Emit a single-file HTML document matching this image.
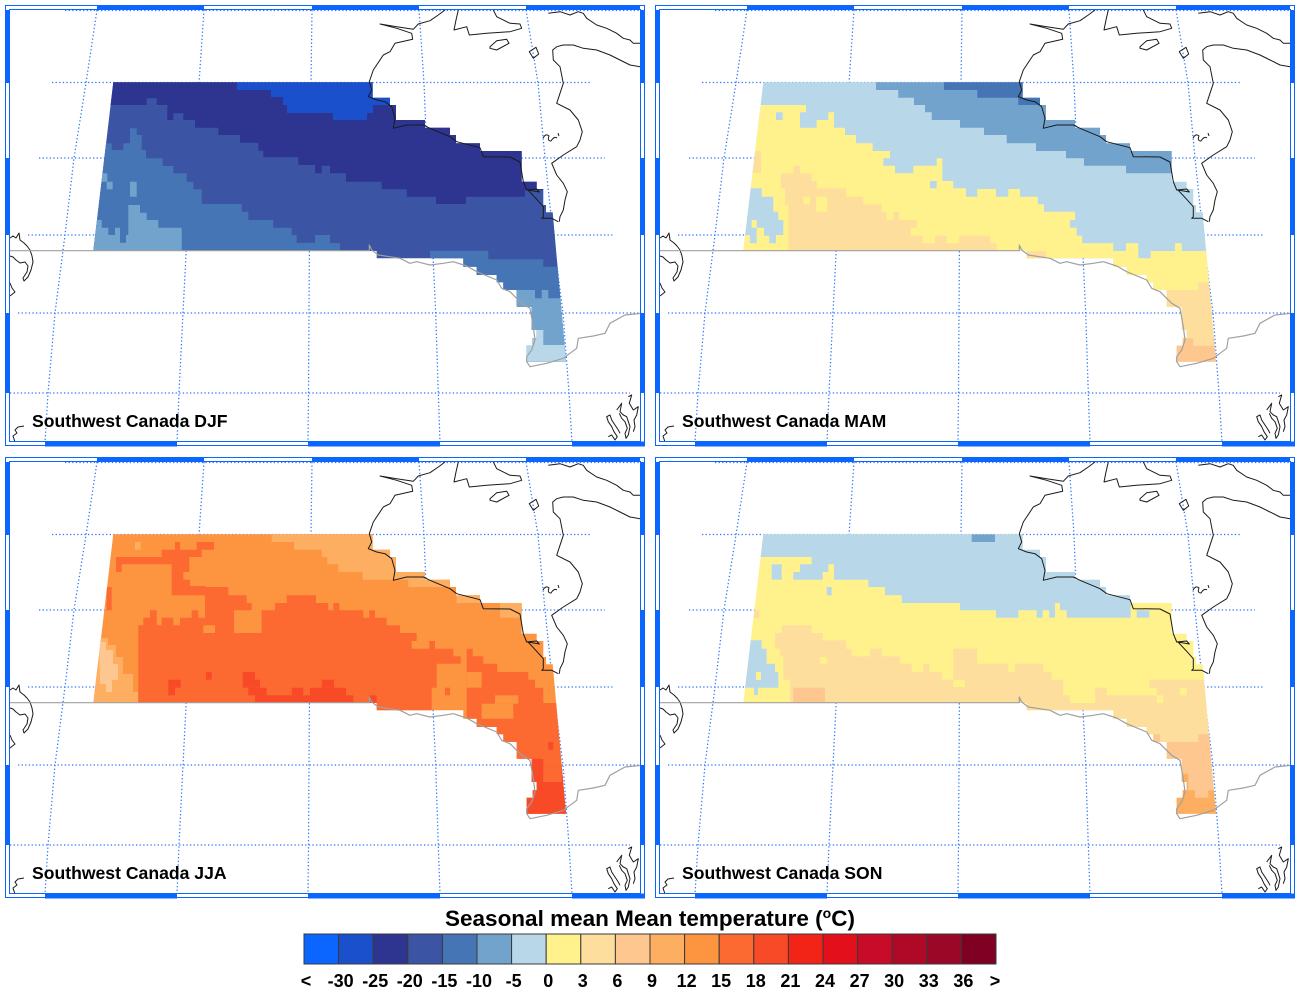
<!DOCTYPE html>
<html><head><meta charset="utf-8"><style>
html,body{margin:0;padding:0;background:#fff;}
svg{display:block;}
text{font-family:"Liberation Sans",Arial,sans-serif;font-weight:bold;fill:#000;}
</style></head><body>
<svg width="1300" height="992" viewBox="0 0 1300 992" xmlns="http://www.w3.org/2000/svg">
<defs>
<clipPath id="cp"><polygon points="113.3,82.3 372.7,82.3 372.7,97.7 390,97.7 390,105 396,105 396,120 425,120 425,127.7 450,127.7 450,135 456,135 456,143.3 480,143.3 480,151 521.7,151 521.7,181.7 536.7,181.7 536.7,189 543.3,189 543.3,205 546,205 546,212.3 552.7,212.3 566,361.7 526.7,361.7 526.7,345.7 532.7,345.7 532.7,338.3 536.7,338.3 536.7,330 531.7,330 531.7,306.7 516.7,306.7 516.7,290 503.3,290 503.3,282.3 496.7,282.3 496.7,275 476.7,275 476.7,266.7 463.3,266.7 463.3,258.3 376.7,258.3 376.7,251 93.3,251"/></clipPath>
<g id="grid" fill="none" stroke="#2a74ff" stroke-width="1.25" stroke-dasharray="1.3 2.3">
<polyline points="97,10 86,83 74,158 65,235 55,313 48,393 45,442"/>
<polyline points="204,10 199,83 193,158 187,235 183,313 179,393 177,442"/>
<polyline points="312,10 311,83 310.5,158 309.5,235 309,313 308.5,393 308,442"/>
<polyline points="419,10 424,83 427,158 432,235 435.7,313 438.3,393 440,442"/>
<polyline points="526,10 538,83 545,158 553,235 563,313 569,393 572,442"/>
<line x1="65" y1="10.5" x2="640" y2="10.5"/>
<line x1="52" y1="82.5" x2="590" y2="82.5"/>
<line x1="39" y1="158" x2="605" y2="158"/>
<line x1="28" y1="235" x2="613" y2="235"/>
<line x1="18" y1="313" x2="640" y2="313"/>
<line x1="10" y1="393" x2="630" y2="393"/>
</g>
<g id="coast" fill="none" stroke-linejoin="round">
<g stroke="#1a1a1a" stroke-width="1">
<polyline points="445,10 438.3,15 430,20.7 418.3,24 413.3,29.3 396.7,26.7 380,24 396.7,28.3 411.7,33.3 412.7,39.3 395,43.3 390,51.7 383.3,55 373.3,70 369.3,81.7 371.7,90 368.3,96.7 376.7,100 385,101.7 391.7,106.7 395,118.3 393.3,128.3 406.7,125 423.3,125 430,128.3 450,136.7 456.7,141.7 480,147.7 483.3,156.7 510,157 520,162 523.3,181.7 526.7,190 536.7,189 539.3,192 528,190 536.7,199.3 543.3,206.7 543.3,216.7 541.7,218.3 551.7,218.3 558.3,221.7"/>
<polyline points="458.3,10 456,20 454,30 466.7,26.7 469.3,35 486.7,33.3 510,31.7 521.7,28.3 520,24 510,23.3 496.7,16.7 493.3,10"/>
<polygon points="490,46.7 496.7,40.7 506.7,39.3 509,43.3 496.7,50 490,48.3"/>
<polygon points="529.3,51.7 536,47.3 538.7,54 533.3,58.3"/>
<polyline points="548.3,13.3 560,11.7 570,15 578.3,11.7 583.3,13.3 586.7,18.3 596.7,25 606.7,28.3 616.7,33.3 623.3,38.3 630,40 633.3,43.3 640,43.3"/>
<polyline points="640,66.7 630,65 620,60 610,55 596.7,50 583.3,48.3 573.3,45 563.3,45 556.7,46.7 552.7,50 553.3,60 560,66.7 563.3,83.3 560,93.3 556.7,103.3 570,110 578.3,120 582.3,131.7 580,140 576.7,146.7 563.3,155 551.7,163.3 556.7,175 563.3,183.3 567.3,191.7 565,200 563.3,210 560,216.7 559.3,221.7"/>
<path d="M543,138 q3,-5 6,-2 q-2,5 2,5 q3,-5 6,-3 M558,133 l1,3"/>
<polyline points="10,238 13,236 16,238 19,233 20,240 24,243 27,246 30,250 32,256 33,262 31,270 28,277 24,281 23,278 27,272 28,266 25,262 20,263 16,260 13,257 10,256"/>
<polyline points="10,283 12,288 15,292 10,296"/>
<polyline points="24,426 18,427 15,430 17,433 13,436 15,442"/>
<polyline points="608.3,436.7 611.7,435 615,440 617.3,436.7 614,431.7 611.7,426.7 608.3,421.7 606.7,416.7 610,415 611.7,420 615,425 618.3,430 620,433.3"/>
<polyline points="616.7,410 621.7,403.3 620,411.7 623.3,415 626.7,416.7 630,426.7 628.3,435 626,438.3 625,433.3 627.3,428.3 625,421.7 621.7,418.3 619.3,413.3"/>
<polyline points="628.3,396.7 631.7,395 629.3,403.3 633.3,410 638.3,406.7 636.7,415 634,420 635,426.7 633.3,431.7"/>
</g>
<g stroke="#a0a0a0" stroke-width="1.2">
<polyline points="10,250.7 369.3,250.7 369.3,245 371.7,250 378.3,255 400,258.3 410,263.3 416.7,261.7 430,265 443.3,263.3 453.3,261.7 466.7,266 476.7,271.7 496.7,280 501.7,288.3 510,291.7 515,296.7 521.7,303.3 530,308.3 533.3,326.7 535,340 531.7,350 526.7,356.7 526.7,361.7 530,366.7 546.7,363.3 563.3,358.3 576.7,348.3 578.3,338.3 593.3,336 605,333.3 610,323.3 625,315 641.7,313.3"/>
</g>
</g>
<g id="frame">
<rect x="5.5" y="5.5" width="639" height="440" fill="none" stroke="#0a66ff" stroke-width="1"/>
<rect x="9.5" y="9.5" width="631" height="432" fill="none" stroke="#0a66ff" stroke-width="1"/>
<g fill="#0a66ff">
<rect x="97" y="5" width="107" height="5"/>
<rect x="312" y="5" width="107" height="5"/>
<rect x="526" y="5" width="114" height="5"/>
<rect x="45" y="441.5" width="132" height="5"/>
<rect x="308" y="441.5" width="132" height="5"/>
<rect x="572" y="441.5" width="73" height="5"/>
<rect x="5" y="10" width="4.5" height="73"/>
<rect x="5" y="158" width="4.5" height="77"/>
<rect x="5" y="313" width="4.5" height="80"/>
<rect x="640.5" y="10" width="4.5" height="73"/>
<rect x="640.5" y="158" width="4.5" height="77"/>
<rect x="640.5" y="313" width="4.5" height="80"/>
</g>
</g>
</defs>

<!-- DJF -->
<g transform="translate(0,0)">
<use href="#grid"/>
<g clip-path="url(#cp)">
<rect x="80" y="70" width="520" height="320" fill="#3b55a4"/>
<polygon fill="#2e3591" points="100,78 237,78 237,90 271,90 271,97 283,97 283,105 287,105 287,113 333,113 333,120 367,120 367,113 373,113 373,105 600,105 600,190 525,190 525,196.7 466,196.7 466,204 436,204 436,196.7 406.7,196.7 406.7,189.3 381.7,189.3 381.7,181.7 346,181.7 346,173.3 330,173.3 330,165.7 321.7,165.7 321.7,173.3 315,173.3 315,165 298.3,165 298.3,157.3 263.3,157.3 263.3,150.7 258.3,150.7 258.3,142.7 240,142.7 240,135 218.3,135 218.3,127.7 195,127.7 195,120 183.3,120 183.3,113.3 173.3,113.3 173.3,120 167.3,120 167.3,105 156.7,105 156.7,98.3 146.7,98.3 146.7,105 100,105"/>
<polygon fill="#1b50cc" points="237,78 400,78 400,105 373,105 373,113 367,113 367,120 333,120 333,113 287,113 287,105 283,105 283,97 271,97 271,90 237,90"/>
<polygon fill="#4575b4" points="90,143.3 111.7,143.3 111.7,150 123.3,150 123.3,143.3 130,143.3 130,128.3 136.7,128.3 136.7,135 141.7,135 141.7,150 146,150 146,158.3 162.7,158.3 162.7,166 173.3,166 173.3,173.3 186.7,173.3 186.7,181.7 193.3,181.7 193.3,189.3 201.7,189.3 201.7,204 241.7,204 241.7,211.7 248.3,211.7 248.3,220 273.3,220 273.3,227.7 291.7,227.7 291.7,235 296.7,235 296.7,242.7 315,242.7 315,235 330,235 330,243 340,243 340,252 90,252"/>
<polygon fill="#4575b4" points="433.3,250.7 488.3,250.7 488.3,259.3 543.3,259.3 543.3,266.7 580,266.7 580,380 430,380 430,250.7"/>
<polygon fill="#72a3cd" points="128.3,205 140,205 140,212.7 146.7,212.7 146.7,220 158.3,220 158.3,227.7 181.7,227.7 181.7,252 90,252 90,220 101.7,220 101.7,227.7 108.3,227.7 108.3,235 115,235 115,227.7 120,227.7 120,242.7 126,242.7 126,235 128.3,235"/>
<rect fill="#72a3cd" x="101.7" y="173.3" width="5.6" height="8.4"/>
<rect fill="#72a3cd" x="106.7" y="181.7" width="6" height="7.6"/>
<rect fill="#72a3cd" x="130" y="181.7" width="6.7" height="15"/>
<polygon fill="#72a3cd" points="516.7,290 535,290 535,298.3 541.7,298.3 541.7,290 548.3,290 548.3,298.3 580,298.3 580,380 500,380 500,290"/>
<polygon fill="#b8d8ea" points="533.3,330 543.3,330 543.3,345 580,345 580,380 520,380 520,345 533.3,345"/>
</g>
<use href="#coast"/>
<use href="#frame"/>
<text x="32" y="427" font-size="17.6">Southwest Canada DJF</text>
</g>

<!-- MAM -->
<g transform="translate(650,0)">
<use href="#grid"/>
<g clip-path="url(#cp)">
<rect x="80" y="70" width="520" height="320" fill="#b8d8ea"/>
<polygon fill="#72a3cd" points="226,78 600,78 600,173.3 476,173.3 476,165.7 434,165.7 434,158.3 416,158.3 416,151 386,151 386,143.3 356.7,143.3 356.7,135 334,135 334,127.7 310,127.7 310,120 281.7,120 281.7,112.3 275,112.3 275,105 264,105 264,97.7 248.3,97.7 248.3,90 226,90"/>
<polygon fill="#4575b4" points="294,78 400,78 400,105 368.3,105 368.3,97.7 327.3,97.7 327.3,90 294,90"/>
<polygon fill="#fff28c" points="80,105 156,105 156,112.3 150,112.3 150,127.7 166.7,127.7 166.7,120 178.3,120 178.3,112.3 184,112.3 184,127.7 195,127.7 195,135 206,135 206,143.3 222.7,143.3 222.7,151 240,151 240,158.3 233.3,158.3 233.3,165.7 245,165.7 245,173.3 263.3,173.3 263.3,165.7 286.7,165.7 286.7,158.3 292.3,158.3 292.3,181 303.3,181 303.3,188.3 316,188.3 316,196.7 327.3,196.7 327.3,189 346,189 346,196.7 358.3,196.7 358.3,189 370,189 370,196.7 387.7,196.7 387.7,204.3 394,204.3 394,211.7 425,211.7 425,220 420,220 420,227.7 426.7,227.7 426.7,235.7 432.3,235.7 432.3,243.3 463.3,243.3 463.3,251 476,251 476,243.3 488.3,243.3 488.3,258.3 500.7,258.3 500.7,251 525,251 525,243.3 531.7,243.3 531.7,251 580,251 580,400 80,400"/>
<rect fill="#b8d8ea" x="126" y="112.3" width="6.7" height="7.7"/>
<rect fill="#b8d8ea" x="280" y="181" width="6.7" height="7.3"/>
<polygon fill="#b8d8ea" points="90,188.3 111.7,188.3 111.7,196.7 123.3,196.7 123.3,211.7 128.3,211.7 128.3,220 133.3,220 133.3,235 126,235 126,243.3 119.3,243.3 119.3,235.7 114,235.7 114,227.7 106.7,227.7 106.7,243.3 100,243.3 100,235 90,235"/>
<rect fill="#fff28c" x="101.7" y="220" width="5" height="7.7"/>
<rect fill="#fede9c" x="101" y="151" width="10" height="22"/>
<polygon fill="#fede9c" points="130.7,173.3 143.3,173.3 143.3,165.7 150,165.7 150,173.3 161.7,173.3 161.7,181 166.7,181 166.7,188.3 196,188.3 196,196.7 213.3,196.7 213.3,204.3 231.7,204.3 231.7,211.7 236.7,211.7 236.7,220 243.3,220 243.3,211.7 249.3,211.7 249.3,220 266.7,220 266.7,227.7 260.7,227.7 260.7,235.7 272.7,235.7 272.7,243.3 285,243.3 285,235.7 296.7,235.7 296.7,243.3 309.3,243.3 309.3,235.7 340,235.7 340,243.3 346.7,243.3 346.7,252 138.3,252 138.3,205 135,205 135,188.3 130.7,188.3"/>
<rect fill="#fff28c" x="153.3" y="196.7" width="6.7" height="7.7"/>
<rect fill="#fff28c" x="166" y="196.7" width="11.3" height="15"/>
<rect fill="#fede9c" x="376.7" y="251" width="19.3" height="7.3"/>
<polygon fill="#fede9c" points="516,290 548.3,290 548.3,282.3 580,282.3 580,380 510,380"/>
<polygon fill="#fdc78f" points="520,338.3 543.3,338.3 543.3,345.7 563.3,345.7 563.3,338.3 580,338.3 580,380 520,380"/>
</g>
<use href="#coast"/>
<use href="#frame"/>
<text x="32" y="427" font-size="17.6">Southwest Canada MAM</text>
</g>

<!-- JJA -->
<g transform="translate(0,452)">
<use href="#grid"/>
<g clip-path="url(#cp)">
<rect x="80" y="70" width="520" height="320" fill="#fd9440"/>
<polygon fill="#fdae60" points="271.7,78 460,78 460,135 408.3,135 408.3,127.7 362.7,127.7 362.7,120 338.3,120 338.3,112.3 327.3,112.3 327.3,105 321.7,105 321.7,97.7 294,97.7 294,90 271.7,90"/>
<rect fill="#fdae60" x="456.7" y="143.3" width="23.3" height="7.7"/>
<rect fill="#fdae60" x="500" y="151" width="23" height="14.7"/>
<rect fill="#fdae60" x="135" y="90" width="5.7" height="7.7"/>
<polygon fill="#fc6a32" points="116,105 161.7,105 161.7,97.7 175,97.7 175,90 180,90 180,97.7 196.7,97.7 196.7,90 214,90 214,97.7 201.7,97.7 201.7,105 189.3,105 189.3,120 183.3,120 183.3,127.7 190,127.7 190,135 171.7,135 171.7,112.3 121.7,112.3 121.7,120 116,120"/>
<rect fill="#fc6a32" x="171.7" y="134" width="34" height="9.3"/>
<rect fill="#fc6a32" x="106.7" y="135" width="5" height="23.3"/>
<polygon fill="#fc6a32" points="138.3,265 138.3,173.3 143.3,173.3 143.3,165.7 150,165.7 150,158.3 156.7,158.3 156.7,173.3 161.7,173.3 161.7,165.7 173.3,165.7 173.3,173.3 180,173.3 180,165.7 191.7,165.7 191.7,158.3 198.3,158.3 198.3,165.7 205,165.7 205,135 228.3,135 228.3,143.3 246.7,143.3 246.7,151 251.7,151 251.7,158.3 234,158.3 234,181 261.7,181 261.7,158.3 275,158.3 275,151 286.7,151 286.7,143.3 316,143.3 316,151 328.3,151 328.3,158.3 333.3,158.3 333.3,151 339.3,151 339.3,158.3 363.3,158.3 363.3,165.7 369.3,165.7 369.3,158.3 375,158.3 375,165.7 386.7,165.7 386.7,173.3 400,173.3 400,181 416.7,181 416.7,189 411.7,189 411.7,196.7 429.3,196.7 429.3,189 435,189 435,196.7 453.3,196.7 453.3,204.3 460.7,204.3 460.7,211.7 436.7,211.7 436.7,235.7 431.7,235.7 431.7,265"/>
<rect fill="#fd9440" x="203.3" y="173.3" width="11.7" height="7.7"/>
<rect fill="#fc6a32" x="445" y="235.7" width="5" height="7.6"/>
<polygon fill="#fc6a32" points="466.7,196.7 472.7,196.7 472.7,204.3 483.3,204.3 483.3,211.7 497.3,211.7 497.3,220 528.3,220 528.3,227.7 535,227.7 535,235.7 543.3,235.7 543.3,251 580,251 580,380 466.7,380"/>
<rect fill="#fd9440" x="481.7" y="251.7" width="31.6" height="15"/>
<rect fill="#fd9440" x="495" y="243.3" width="23.3" height="8.4"/>
<rect fill="#fd9440" x="466.7" y="220" width="15" height="15.7"/>
<polygon fill="#fdae60" points="90,186 108,186 108,193 116,193 116,205 123,205 123,222 133,222 133,240 138,240 138,252 90,252"/>
<polygon fill="#fdc78f" points="99,190 106,190 106,198 113,198 113,212 118,212 118,228 112,228 112,240 106,240 106,232 100,232"/>
<rect fill="#fdae60" x="120" y="245" width="5" height="6"/>
<g fill="#f84a27">
<rect x="168.3" y="227.7" width="12.4" height="8"/>
<rect x="168.3" y="235.7" width="6.7" height="7.6"/>
<rect x="206" y="220" width="5.7" height="7.7"/>
<rect x="242.7" y="220" width="12.3" height="7.7"/>
<rect x="242.7" y="227.7" width="17.3" height="8"/>
<rect x="248.3" y="235.7" width="18.4" height="7.6"/>
<rect x="255" y="243.3" width="98.3" height="8.5"/>
<rect x="291.7" y="235.7" width="11.6" height="7.6"/>
<rect x="310" y="235.7" width="36" height="7.6"/>
<rect x="321.7" y="227.7" width="12.3" height="8"/>
<rect x="369.3" y="243.3" width="7.4" height="7.7"/>
<polygon points="530,306.7 543.3,306.7 543.3,314.3 580,314.3 580,380 520,380 520,306.7"/>
<rect x="548.3" y="290" width="5" height="7.7"/>
</g>
<rect fill="#fc6a32" x="543.3" y="314.3" width="18.4" height="15.7"/>
</g>
<use href="#coast"/>
<use href="#frame"/>
<text x="32" y="427" font-size="17.6">Southwest Canada JJA</text>
</g>

<!-- SON -->
<g transform="translate(650,452)">
<use href="#grid"/>
<g clip-path="url(#cp)">
<rect x="80" y="70" width="520" height="320" fill="#fff28c"/>
<polygon fill="#b8d8ea" points="100,78 500,78 500,151 480.7,151 480.7,165.7 416.7,165.7 416.7,158.3 410,158.3 410,151 405,151 405,165.7 399.3,165.7 399.3,158.3 392.7,158.3 392.7,165.7 386.7,165.7 386.7,158.3 368.3,158.3 368.3,165.7 346,165.7 346,158.3 310,158.3 310,151 251.7,151 251.7,143.3 235,143.3 235,135 218.3,135 218.3,127.7 184,127.7 184,112.3 178.3,112.3 178.3,120 172.7,120 172.7,127.7 143.3,127.7 143.3,120 150,120 150,112.3 161.7,112.3 161.7,105 100,105"/>
<rect fill="#b8d8ea" x="486.7" y="158.3" width="12.6" height="7.4"/>
<rect fill="#b8d8ea" x="121.7" y="112.3" width="10" height="15.4"/>
<rect fill="#b8d8ea" x="176.7" y="135" width="5" height="8.3"/>
<rect fill="#72a3cd" x="321.7" y="82.3" width="23.3" height="7.7"/>
<rect fill="#fede9c" x="103.3" y="158.3" width="6" height="7.4"/>
<polygon fill="#fede9c" points="125,181 131.7,181 131.7,173.3 161.7,173.3 161.7,181 172.7,181 172.7,188.3 196,188.3 196,196.7 201.7,196.7 201.7,204.3 220,204.3 220,196.7 231.7,196.7 231.7,204.3 250,204.3 250,211.7 261.7,211.7 261.7,220 273.3,220 273.3,211.7 279.3,211.7 279.3,220 291.7,220 291.7,227.7 303.3,227.7 303.3,196.7 327.3,196.7 327.3,211.7 358.3,211.7 358.3,220 365,220 365,211.7 393.3,211.7 393.3,220 401.7,220 401.7,227.7 413.3,227.7 413.3,243.3 420,243.3 420,251 445,251 445,235.7 456.7,235.7 456.7,243.3 506.7,243.3 506.7,235.7 499.3,235.7 499.3,227.7 580,227.7 580,400 140,400 140,227.7 133.3,227.7 133.3,204.3 130,204.3 130,196.7 125,196.7"/>
<rect fill="#fff28c" x="530" y="235.7" width="6.7" height="7.6"/>
<rect fill="#fff28c" x="506.7" y="243.3" width="6.6" height="7.7"/>
<rect fill="#fff28c" x="170" y="205" width="6.7" height="6.7"/>
<rect fill="#fff28c" x="303.3" y="227.7" width="11.7" height="7.3"/>
<polygon fill="#b8d8ea" points="90,188.3 111.7,188.3 111.7,196.7 116.7,196.7 116.7,211.7 125,211.7 125,220 128.3,220 128.3,235.7 108,235.7 108,243 104,243 104,235.7 90,235.7"/>
<rect fill="#fff28c" x="106" y="220" width="5" height="8"/>
<rect fill="#fdc78f" x="143.3" y="235.7" width="31.7" height="15.3"/>
<polygon fill="#fdc78f" points="500,282.3 510,282.3 510,290 548.3,290 548.3,282.3 580,282.3 580,380 500,380"/>
<polygon fill="#fdae60" points="520,338.3 531.7,338.3 531.7,321.7 538.3,321.7 538.3,338.3 545,338.3 545,345.7 558.3,345.7 558.3,338.3 580,338.3 580,380 520,380"/>
</g>
<use href="#coast"/>
<use href="#frame"/>
<text x="32" y="427" font-size="17.6">Southwest Canada SON</text>
</g>

<!-- Colorbar -->
<text x="650" y="926" font-size="22.5" text-anchor="middle">Seasonal mean Mean temperature (<tspan font-size="14" dy="-8">o</tspan><tspan dy="8">C)</tspan></text>
<g stroke="#3a3a3a" stroke-width="1">
<rect x="304" y="934" width="34.6" height="30" fill="#0a66ff"/>
<rect x="338.6" y="934" width="34.6" height="30" fill="#1b50cc"/>
<rect x="373.2" y="934" width="34.6" height="30" fill="#2e3591"/>
<rect x="407.8" y="934" width="34.6" height="30" fill="#3b55a4"/>
<rect x="442.4" y="934" width="34.6" height="30" fill="#4575b4"/>
<rect x="477" y="934" width="34.6" height="30" fill="#72a3cd"/>
<rect x="511.6" y="934" width="34.6" height="30" fill="#b8d8ea"/>
<rect x="546.2" y="934" width="34.6" height="30" fill="#fff28c"/>
<rect x="580.8" y="934" width="34.6" height="30" fill="#fede9c"/>
<rect x="615.4" y="934" width="34.6" height="30" fill="#fdc78f"/>
<rect x="650" y="934" width="34.6" height="30" fill="#fdae60"/>
<rect x="684.6" y="934" width="34.6" height="30" fill="#fd9440"/>
<rect x="719.2" y="934" width="34.6" height="30" fill="#fc6a32"/>
<rect x="753.8" y="934" width="34.6" height="30" fill="#f84a27"/>
<rect x="788.4" y="934" width="34.6" height="30" fill="#f22418"/>
<rect x="823" y="934" width="34.6" height="30" fill="#e3101c"/>
<rect x="857.6" y="934" width="34.6" height="30" fill="#c70b29"/>
<rect x="892.2" y="934" width="34.6" height="30" fill="#b00927"/>
<rect x="926.8" y="934" width="34.6" height="30" fill="#9b0827"/>
<rect x="961.4" y="934" width="34.6" height="30" fill="#800024"/>
</g>
<g font-size="18" text-anchor="middle">
<text x="306" y="987">&lt;</text>
<text x="340.6" y="987">-30</text>
<text x="375.2" y="987">-25</text>
<text x="409.8" y="987">-20</text>
<text x="444.4" y="987">-15</text>
<text x="479" y="987">-10</text>
<text x="513.6" y="987">-5</text>
<text x="548.2" y="987">0</text>
<text x="582.8" y="987">3</text>
<text x="617.4" y="987">6</text>
<text x="652" y="987">9</text>
<text x="686.6" y="987">12</text>
<text x="721.2" y="987">15</text>
<text x="755.8" y="987">18</text>
<text x="790.4" y="987">21</text>
<text x="825" y="987">24</text>
<text x="859.6" y="987">27</text>
<text x="894.2" y="987">30</text>
<text x="928.8" y="987">33</text>
<text x="963.4" y="987">36</text>
<text x="995" y="987">&gt;</text>
</g>
</svg>
</body></html>
